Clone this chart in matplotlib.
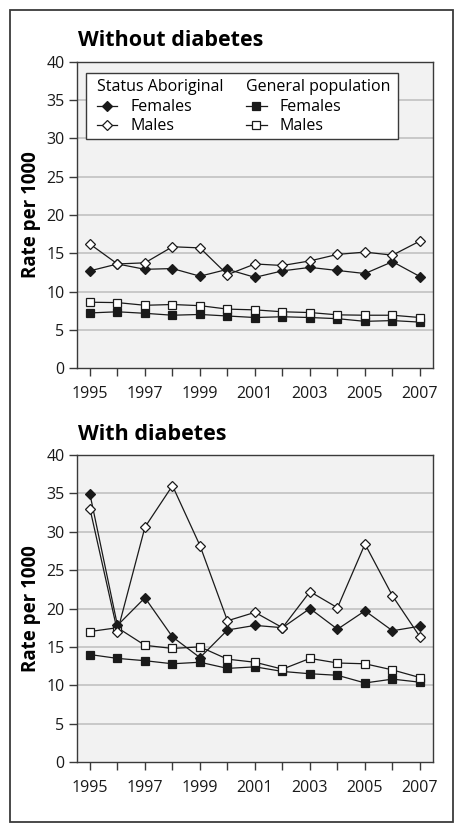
import matplotlib
matplotlib.use("Agg")
import matplotlib.pyplot as plt
from matplotlib.lines import Line2D
from matplotlib.patches import Rectangle

plt.rcParams["font.family"] = ["Open Sans", "DejaVu Sans"]

years = list(range(1995, 2008))
tick_years = list(range(1995, 2008, 2))
yticks = [0, 5, 10, 15, 20, 25, 30, 35, 40]

# Without diabetes
no_abo_female = [12.7, 13.6, 12.9, 13.0, 12.0, 12.9, 11.85, 12.7, 13.15, 12.75, 12.35, 13.9, 11.95]
no_abo_male = [16.2, 13.6, 13.75, 15.85, 15.7, 12.2, 13.6, 13.4, 14.0, 14.85, 15.15, 14.75, 16.6]
no_gen_female = [7.2, 7.35, 7.15, 6.9, 7.0, 6.8, 6.6, 6.7, 6.6, 6.45, 6.1, 6.2, 6.0]
no_gen_male = [8.6, 8.55, 8.2, 8.3, 8.15, 7.7, 7.6, 7.35, 7.25, 6.95, 6.9, 6.9, 6.6]

# With diabetes
dm_abo_female = [34.9, 17.8, 21.4, 16.3, 13.6, 17.2, 17.8, 17.5, 20.0, 17.3, 19.7, 17.1, 17.7]
dm_abo_male = [33.0, 17.0, 30.6, 36.0, 28.2, 18.4, 19.5, 17.5, 22.2, 20.1, 28.4, 21.65, 16.3]
dm_gen_female = [14.0, 13.5, 13.2, 12.8, 13.0, 12.2, 12.4, 11.8, 11.5, 11.3, 10.3, 10.8, 10.4]
dm_gen_male = [17.0, 17.5, 15.2, 14.8, 15.0, 13.4, 13.0, 12.1, 13.5, 12.9, 12.8, 12.0, 11.0]

LINE = "#1a1a1a"
SPINE = "#3a3a3a"

styles = {
    "abo_f": dict(marker="D", markersize=5.5, markerfacecolor=LINE, markeredgecolor=LINE),
    "abo_m": dict(marker="D", markersize=5.5, markerfacecolor="white", markeredgecolor=LINE),
    "gen_f": dict(marker="s", markersize=5.5, markerfacecolor=LINE, markeredgecolor=LINE),
    "gen_m": dict(marker="s", markersize=5.5, markerfacecolor="white", markeredgecolor=LINE),
}


def draw_panel(ax, series):
    ax.set_facecolor("#f2f2f2")
    for key, vals in series:
        ax.plot(years, vals, color=LINE, lw=0.9, markeredgewidth=0.9, zorder=3, **styles[key])
    ax.set_xlim(1994.53, 2007.47)
    ax.set_ylim(0, 40)
    ax.set_yticks(yticks)
    ax.set_xticks(years)
    ax.set_xticklabels([str(y) if y in tick_years else "" for y in years])
    for v in yticks[1:-1]:
        ax.axhline(v, color="#c8c8c8", lw=1.4, zorder=1)
    for s in ax.spines.values():
        s.set_color(SPINE)
        s.set_linewidth(1.0)
    ax.tick_params(direction="out", length=6, width=1.0, color=SPINE,
                   labelsize=11.5, pad=3, labelcolor="#1a1a1a")
    ax.tick_params(axis="x", pad=7)
    ax.set_ylabel("Rate per 1000", fontsize=13.5, fontweight="bold")
    ax.yaxis.set_label_coords(-0.101, 0.5)


fig = plt.figure(figsize=(4.64, 8.33), dpi=100)
ax1 = fig.add_axes([0.166, 0.5582, 0.767, 0.3674])
ax2 = fig.add_axes([0.166, 0.0852, 0.767, 0.3686])

draw_panel(ax1, [("abo_f", no_abo_female), ("abo_m", no_abo_male),
                 ("gen_f", no_gen_female), ("gen_m", no_gen_male)])
draw_panel(ax2, [("gen_f", dm_gen_female), ("gen_m", dm_gen_male),
                 ("abo_f", dm_abo_female), ("abo_m", dm_abo_male)])

fig.text(78 / 464, 1 - 41 / 833, "Without diabetes", fontsize=15.5, fontweight="bold", va="center")
fig.text(78 / 464, 1 - 435 / 833, "With diabetes", fontsize=15.5, fontweight="bold", va="center")

# legend: box + two title-headed columns
ax1.add_patch(Rectangle((0.025, 0.748), 0.877, 0.216, transform=ax1.transAxes,
                        facecolor="white", edgecolor=SPINE, lw=1.0, zorder=4))


def handle(key):
    return Line2D([], [], color=LINE, lw=0.9, markeredgewidth=0.9, **styles[key])


leg_kw = dict(frameon=False, fontsize=11.5, title_fontsize=11.5, alignment="left",
              handlelength=1.3, handletextpad=0.8, labelspacing=0.18,
              borderaxespad=0, borderpad=0)
leg1 = ax1.legend([handle("abo_f"), handle("abo_m")], ["Females", "Males"],
                  title="Status Aboriginal", loc="upper left",
                  bbox_to_anchor=(0.055, 0.944), **leg_kw)
leg1.set_zorder(5)
leg1._legend_box.sep = 3
ax1.add_artist(leg1)
leg2 = ax1.legend([handle("gen_f"), handle("gen_m")], ["Females", "Males"],
                  title="General population", loc="upper left",
                  bbox_to_anchor=(0.475, 0.944), **leg_kw)
leg2.set_zorder(5)
leg2._legend_box.sep = 3

fig.add_artist(Rectangle((10 / 464, 1 - 822 / 833), 443 / 464, 812 / 833,
                         transform=fig.transFigure, fill=False, edgecolor=SPINE, lw=1.3))

fig.savefig("out.png", dpi=100)
